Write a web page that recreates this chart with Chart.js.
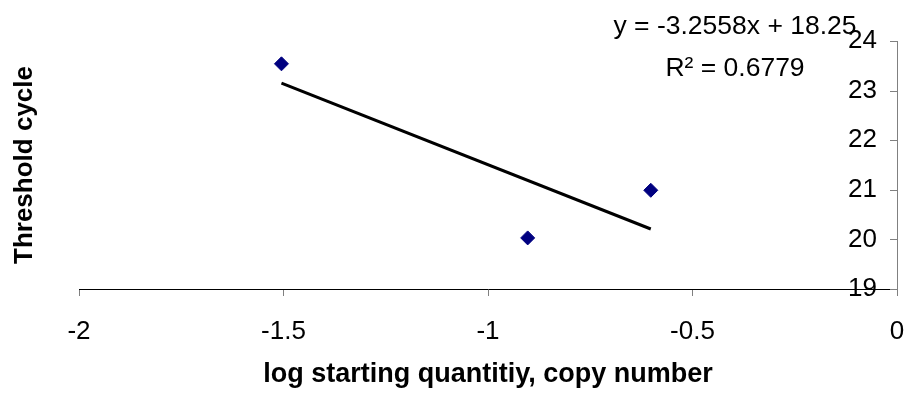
<!DOCTYPE html>
<html>
<head>
<meta charset="utf-8">
<title>Threshold cycle vs log starting quantity</title>
<style>
  html, body { margin: 0; padding: 0; background: #ffffff; overflow: hidden; }
  canvas { display: block; }
</style>
<script src="https://cdn.jsdelivr.net/npm/chart.js@4/dist/chart.umd.min.js"></script>
</head>
<body>
<canvas id="chart" width="905" height="394" style="width:905px;height:394px"></canvas>
<script>
// Standard curve data: log10 of the starting quantity and the measured Ct
const logQuantity = [-1.505, -0.903, -0.602];
const thresholdCycle = [23.54, 20.03, 20.99];

// Linear trendline reported on the chart
const fitSlope = -3.2558;
const fitIntercept = 18.25;
const fitR2 = 0.6779;

// Axis ticks
const xTickValues = [-2, -1.5, -1, -0.5, 0];
const yTickValues = [19, 20, 21, 22, 23, 24];

const FONT = '"Liberation Sans", Arial, Helvetica, sans-serif';

// Trendline spans the range of the measured points
const xMin = Math.min(...logQuantity);
const xMax = Math.max(...logQuantity);
const trendPoints = [xMin, xMax].map(x => ({ x: x, y: fitSlope * x + fitIntercept }));
const samplePoints = logQuantity.map((x, i) => ({ x: x, y: thresholdCycle[i] }));

const fmt = v => String(v);
const equationText = 'y = ' + fitSlope.toFixed(4) + 'x + ' + fitIntercept.toFixed(2);
const r2Text = 'R\u00B2 = ' + fitR2.toFixed(4);

// Inward tick marks on the right value axis and the trendline label
const chartExtras = {
  id: 'chartExtras',
  afterDraw(chart) {
    const ctx = chart.ctx;
    const ys = chart.scales.y;
    const area = chart.chartArea;
    ctx.save();
    ctx.strokeStyle = '#808080';
    ctx.lineWidth = 1;
    ys.ticks.forEach(t => {
      const py = Math.round(ys.getPixelForValue(t.value)) + 0.5;
      ctx.beginPath();
      ctx.moveTo(ys.left - 7, py);
      ctx.lineTo(ys.left, py);
      ctx.stroke();
    });
    ctx.fillStyle = '#000000';
    ctx.font = '26.5px ' + FONT;
    ctx.textAlign = 'center';
    ctx.textBaseline = 'alphabetic';
    const cx = area.right - 162;
    ctx.fillText(equationText, cx, area.top - 7);
    ctx.fillText(r2Text, cx, area.top + 35);
    ctx.restore();
  }
};

new Chart(document.getElementById('chart'), {
  type: 'scatter',
  data: {
    datasets: [
      {
        label: 'Ct',
        data: samplePoints,
        pointStyle: 'rectRot',
        pointRadius: 7,
        pointHoverRadius: 7,
        backgroundColor: '#000080',
        borderColor: '#000080',
        borderWidth: 1,
        order: 1
      },
      {
        label: 'Linear fit',
        data: trendPoints,
        showLine: true,
        pointRadius: 0,
        pointHoverRadius: 0,
        borderColor: '#000000',
        borderWidth: 3,
        fill: false,
        order: 2
      }
    ]
  },
  options: {
    responsive: false,
    animation: false,
    devicePixelRatio: 1,
    layout: { padding: { top: 41, left: 0, right: 0, bottom: 0 } },
    plugins: {
      legend: { display: false },
      tooltip: { enabled: false }
    },
    scales: {
      x: {
        type: 'linear',
        position: 'bottom',
        min: -2,
        max: 0,
        afterBuildTicks: s => { s.ticks = xTickValues.map(v => ({ value: v })); },
        afterFit: s => { s.height = 105; s.paddingLeft = 0; s.paddingRight = 0; },
        ticks: {
          callback: fmt,
          color: '#000000',
          padding: 20,
          maxRotation: 0,
          font: { family: FONT, size: 26 }
        },
        grid: {
          drawOnChartArea: false,
          drawTicks: true,
          tickLength: 7,
          color: '#808080'
        },
        border: { display: true, color: '#000000', width: 1 },
        title: {
          display: true,
          text: 'log starting quantitiy, copy number',
          color: '#000000',
          font: { family: FONT, size: 27, weight: 'bold' },
          padding: { top: 0, bottom: 3 }
        }
      },
      y: {
        type: 'linear',
        position: 'right',
        min: 19,
        max: 24,
        afterBuildTicks: s => { s.ticks = yTickValues.map(v => ({ value: v })); },
        afterFit: s => { s.width = 8; s.paddingTop = 0; s.paddingBottom = 0; },
        ticks: {
          callback: fmt,
          mirror: true,
          padding: -20,
          color: '#000000',
          font: { family: FONT, size: 26 }
        },
        grid: { drawOnChartArea: false, drawTicks: false },
        border: { display: true, color: '#808080', width: 1 }
      },
      yTitle: {
        type: 'linear',
        position: 'left',
        min: 19,
        max: 24,
        afterFit: s => { s.width = 79; },
        ticks: { display: false },
        grid: { display: false },
        border: { display: false },
        title: {
          display: true,
          text: 'Threshold cycle',
          color: '#000000',
          font: { family: FONT, size: 26, weight: 'bold' },
          padding: { top: 9, bottom: 0 }
        }
      }
    }
  },
  plugins: [chartExtras]
});
</script>
</body>
</html>
